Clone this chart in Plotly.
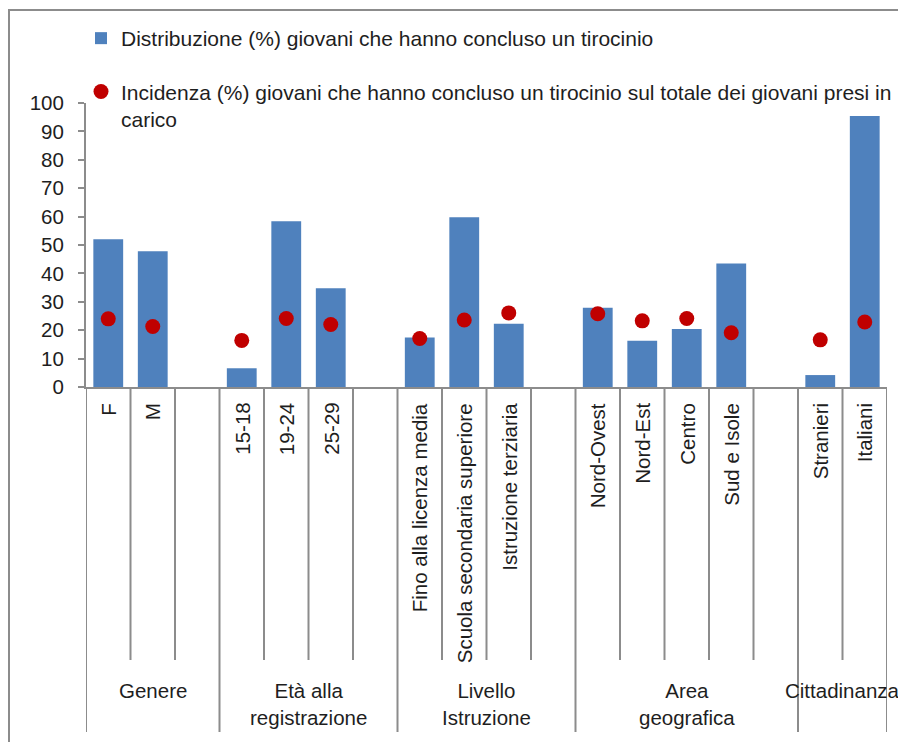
import plotly.graph_objects as go

# ---------------- data ----------------
categories = ["F", "M",
              "15-18", "19-24", "25-29",
              "Fino alla licenza media", "Scuola secondaria superiore", "Istruzione terziaria",
              "Nord-Ovest", "Nord-Est", "Centro", "Sud e Isole",
              "Stranieri", "Italiani"]
group_labels = ["Genere", "Età alla<br>registrazione", "Livello<br>Istruzione",
                "Area<br>geografica", "Cittadinanza"]
group_sizes = [2, 3, 3, 4, 2]
distribuzione = [52.0, 47.8, 6.6, 58.4, 34.8, 17.4, 59.8, 22.3, 27.9, 16.3, 20.4, 43.5, 4.2, 95.4]
incidenza = [24.0, 21.3, 16.4, 24.1, 22.0, 17.1, 23.6, 26.1, 25.8, 23.3, 24.1, 19.1, 16.6, 22.9]
y_ticks = [0, 10, 20, 30, 40, 50, 60, 70, 80, 90, 100]

name_bar = "Distribuzione (%) giovani che hanno concluso un tirocinio"
name_dot = "Incidenza (%) giovani che hanno concluso un tirocinio sul totale dei giovani presi in<br>carico"

# ---------------- layout geometry (page pixels; page body has an 8px margin) ----------------
OFF = 8
W, H = 906 - OFF, 742 - OFF
L, R, T, B = 86 - OFF, 887 - OFF, 103 - OFF, 387 - OFF
FONT = "Liberation Sans, Arial, sans-serif"
TXT = "#1e1e1e"
AX = "#8c8c8c"
FS = 20.5

def px(xp):
    return (xp - OFF - L) / (R - L)

def py(yp):
    return (B - (yp - OFF)) / (B - T)

# positions: one empty slot between groups
positions = []
group_spans = []
slot = 0
for gi, n in enumerate(group_sizes):
    start = slot
    for _ in range(n):
        positions.append(slot)
        slot += 1
    end = slot  # exclusive
    if gi < len(group_sizes) - 1:
        slot += 1  # gap
    group_spans.append((start - 0.5, (slot if gi < len(group_sizes) - 1 else end) - 0.5))
n_slots = slot

fig = go.Figure()
fig.add_trace(go.Bar(
    x=positions, y=distribuzione, name=name_bar, width=0.67,
    marker=dict(color="#4F81BD", line=dict(width=0)),
    legendgroup="a",
))
fig.add_trace(go.Scatter(
    x=positions, y=incidenza, name=name_dot, mode="markers",
    marker=dict(color="#C00000", size=15, symbol="circle"),
    legendgroup="b",
))

shapes = []
# slot separators
group_edges = set()
for a, b in group_spans:
    group_edges.add(a)
    group_edges.add(b)
for k in range(n_slots + 1):
    xe = k - 0.5
    long = xe in group_edges
    shapes.append(dict(type="line", xref="x", yref="paper", x0=xe, x1=xe,
                       y0=0, y1=py(732 if long else 660),
                       line=dict(color=AX, width=2)))
# outer frame
shapes.append(dict(type="rect", xref="paper", yref="paper",
                   x0=px(9), x1=px(930), y0=py(10), y1=py(770),
                   line=dict(color=AX, width=2), fillcolor="rgba(0,0,0,0)", layer="below"))

annotations = []
for p, c in zip(positions, categories):
    annotations.append(dict(x=p, xref="x", y=py(401), yref="paper", text=c,
                            textangle=-90, xanchor="center", yanchor="top",
                            showarrow=False, font=dict(family=FONT, size=FS, color=TXT)))
for (a, b), g in zip(group_spans, group_labels):
    annotations.append(dict(x=(a + b) / 2, xref="x", y=py(677), yref="paper", text=g,
                            xanchor="center", yanchor="top", showarrow=False,
                            font=dict(family=FONT, size=FS, color=TXT)))

fig.update_layout(
    width=W, height=H,
    margin=dict(l=L, r=W - R, t=T, b=H - B, pad=0, autoexpand=False),
    paper_bgcolor="white", plot_bgcolor="white",
    font=dict(family=FONT, size=FS, color=TXT),
    showlegend=True,
    legend=dict(x=px(81), y=py(18), xanchor="left", yanchor="top",
                xref="paper", yref="paper", traceorder="grouped", tracegroupgap=23,
                valign="top", font=dict(family=FONT, size=21, color=TXT),
                bgcolor="rgba(0,0,0,0)", itemwidth=30),
    xaxis=dict(range=[-0.5, n_slots - 0.5], showticklabels=False, ticks="",
               showgrid=False, zeroline=False, showline=True, linecolor=AX, linewidth=2,
               fixedrange=True),
    yaxis=dict(range=[0, 100], tickvals=y_ticks, ticks="outside", ticklen=6,
               tickcolor=AX, tickwidth=2, showgrid=False, zeroline=False,
               showline=True, linecolor=AX, linewidth=2, ticklabelstandoff=10,
               tickfont=dict(family=FONT, size=FS, color=TXT), fixedrange=True),
    shapes=shapes, annotations=annotations,
)

fig.write_html("out.html")
